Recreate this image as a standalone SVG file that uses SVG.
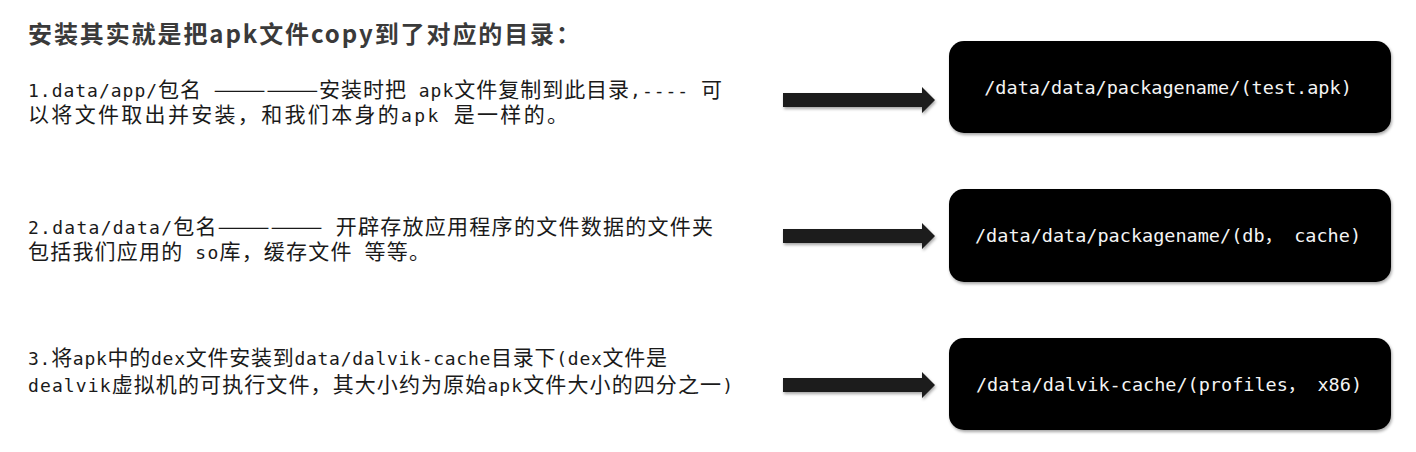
<svg xmlns="http://www.w3.org/2000/svg" width="1416" height="452" viewBox="0 0 1416 452">
<style>
.title{font-family:"Noto Sans CJK SC","Liberation Sans",sans-serif;font-weight:bold;font-size:24px;fill:#3a3a3a}
.body{font-family:"Noto Sans CJK SC",sans-serif;font-size:21px;fill:#1a1a1a}
.lat{font-family:"DejaVu Sans Mono","Liberation Mono",monospace;font-size:18px}
.box{fill:#000000;filter:url(#sh)}
.boxtxt{font-family:"DejaVu Sans Mono","Noto Sans CJK SC",monospace;font-size:18.5px;fill:#f4f4f4;text-anchor:middle}
.arrow{fill:#1a1a1a;filter:url(#sh)}
</style>
<defs>
<filter id="sh" x="-10%" y="-20%" width="120%" height="150%">
<feDropShadow dx="1" dy="2" stdDeviation="1.5" flood-color="#000" flood-opacity="0.35"/>
</filter>
</defs>
<rect width="1416" height="452" fill="#ffffff"/>
<g id="title">
<text class="title" x="28" y="43" textLength="552" lengthAdjust="spacing">安装其实就是把apk文件copy到了对应的目录：</text>
</g>
<g id="text1">
<text class="body" x="28" y="97" textLength="694" lengthAdjust="spacing"><tspan class="lat">1.data/app/</tspan>包名<tspan class="lat"> </tspan>——————安装时把<tspan class="lat"> apk</tspan>文件复制到此目录<tspan class="lat">,---- </tspan>可</text>
<text class="body" x="28" y="122" textLength="540" lengthAdjust="spacing">以将文件取出并安装，和我们本身的<tspan class="lat">apk </tspan>是一样的。</text>
</g>
<g id="text2">
<text class="body" x="28" y="234" textLength="685" lengthAdjust="spacing"><tspan class="lat">2.data/data/</tspan>包名——————<tspan class="lat"> </tspan>开辟存放应用程序的文件数据的文件夹</text>
<text class="body" x="28" y="259" textLength="402" lengthAdjust="spacing">包括我们应用的<tspan class="lat"> so</tspan>库，缓存文件<tspan class="lat"> </tspan>等等。</text>
</g>
<g id="text3">
<text class="body" x="28" y="365" textLength="639" lengthAdjust="spacing"><tspan class="lat">3.</tspan>将<tspan class="lat">apk</tspan>中的<tspan class="lat">dex</tspan>文件安装到<tspan class="lat">data/dalvik-cache</tspan>目录下<tspan class="lat">(dex</tspan>文件是</text>
<text class="body" x="28" y="392" textLength="705" lengthAdjust="spacing"><tspan class="lat">dealvik</tspan>虚拟机的可执行文件，其大小约为原始<tspan class="lat">apk</tspan>文件大小的四分之一<tspan class="lat">)</tspan></text>
</g>
<g id="connectors">
<polygon class="arrow" points="783,93 922,93 922,87 935,100 922,113 922,107 783,107"/>
<polygon class="arrow" points="783,229 922,229 922,223 935,236 922,249 922,243 783,243"/>
<polygon class="arrow" points="783,378 922,378 922,372 935,385 922,398 922,392 783,392"/>
</g>
<g id="box1">
<rect class="box" x="949" y="41" width="442" height="92" rx="15"/>
<text class="boxtxt" x="1168" y="94">/data/data/packagename/(test.apk)</text>
</g>
<g id="box2">
<rect class="box" x="949" y="189" width="442" height="93" rx="15"/>
<text class="boxtxt" x="1168" y="242">/data/data/packagename/(db， cache)</text>
</g>
<g id="box3">
<rect class="box" x="949" y="338" width="442" height="92" rx="15"/>
<text class="boxtxt" x="1169" y="391">/data/dalvik-cache/(profiles， x86)</text>
</g>
</svg>
